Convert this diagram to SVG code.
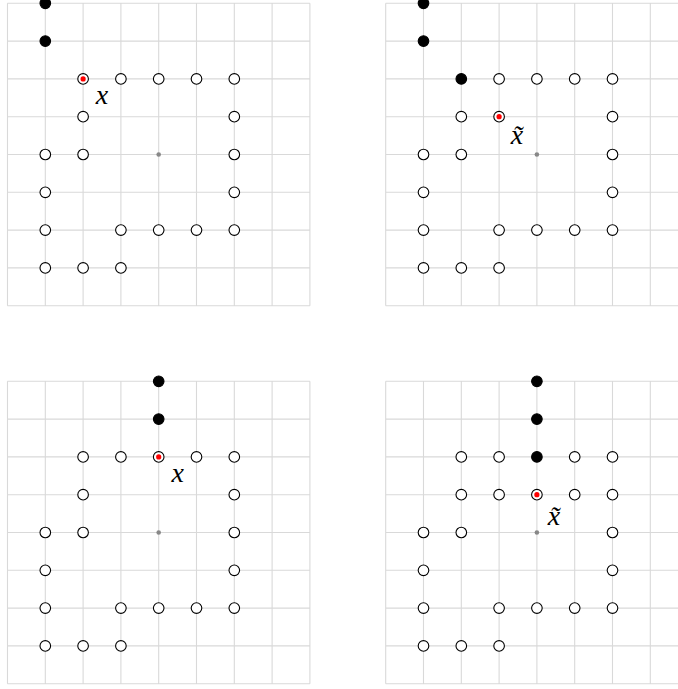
<svg xmlns="http://www.w3.org/2000/svg" xmlns:xlink="http://www.w3.org/1999/xlink" width="678" height="689" viewBox="0 0 678 689">
<style>
.grid{fill:none;stroke:#d9d9d9;stroke-width:1.1}
.o{fill:#fff;stroke:#000;stroke-width:1.1}
.b{fill:#000;stroke:#000;stroke-width:1.1}
.r{fill:#f00;stroke:none}
.g{fill:#888;stroke:none}
.lbl{font-family:"Liberation Serif","DejaVu Serif",serif;font-style:italic;font-size:28px;fill:#000;text-anchor:middle}
</style>
<defs>
<path id="gridL" class="grid" d="M0 0V302.4M37.8 0V302.4M75.6 0V302.4M113.4 0V302.4M151.2 0V302.4M189 0V302.4M226.8 0V302.4M264.6 0V302.4M302.4 0V302.4M0 0H302.4M0 37.8H302.4M0 75.6H302.4M0 113.4H302.4M0 151.2H302.4M0 189H302.4M0 226.8H302.4M0 264.6H302.4M0 302.4H302.4"/>
<g id="common">
<circle class="o" cx="226.8" cy="113.4" r="5.3"/>
<circle class="o" cx="37.8" cy="151.2" r="5.3"/>
<circle class="o" cx="75.6" cy="151.2" r="5.3"/>
<circle class="g" cx="151.2" cy="151.2" r="2.3"/>
<circle class="o" cx="226.8" cy="151.2" r="5.3"/>
<circle class="o" cx="37.8" cy="189" r="5.3"/>
<circle class="o" cx="226.8" cy="189" r="5.3"/>
<circle class="o" cx="37.8" cy="226.8" r="5.3"/>
<circle class="o" cx="113.4" cy="226.8" r="5.3"/>
<circle class="o" cx="151.2" cy="226.8" r="5.3"/>
<circle class="o" cx="189" cy="226.8" r="5.3"/>
<circle class="o" cx="226.8" cy="226.8" r="5.3"/>
<circle class="o" cx="37.8" cy="264.6" r="5.3"/>
<circle class="o" cx="75.6" cy="264.6" r="5.3"/>
<circle class="o" cx="113.4" cy="264.6" r="5.3"/>
</g>
</defs>
<g id="panel1" transform="translate(7.5,3.3)">
<use xlink:href="#gridL"/>
<use xlink:href="#common"/>
<circle class="b" cx="37.8" cy="0" r="5.3"/>
<circle class="b" cx="37.8" cy="37.8" r="5.3"/>
<circle class="o" cx="75.6" cy="75.6" r="5.3"/>
<circle class="r" cx="75.6" cy="75.6" r="2.6"/>
<circle class="o" cx="113.4" cy="75.6" r="5.3"/>
<circle class="o" cx="151.2" cy="75.6" r="5.3"/>
<circle class="o" cx="189" cy="75.6" r="5.3"/>
<circle class="o" cx="226.8" cy="75.6" r="5.3"/>
<circle class="o" cx="75.6" cy="113.4" r="5.3"/>
<text class="lbl" x="94.5" y="100.7">x</text>
</g>
<g id="panel2" transform="translate(385.7,3.3)">
<use xlink:href="#gridL"/>
<use xlink:href="#common"/>
<circle class="b" cx="37.8" cy="0" r="5.3"/>
<circle class="b" cx="37.8" cy="37.8" r="5.3"/>
<circle class="b" cx="75.6" cy="75.6" r="5.3"/>
<circle class="o" cx="113.4" cy="75.6" r="5.3"/>
<circle class="o" cx="151.2" cy="75.6" r="5.3"/>
<circle class="o" cx="189" cy="75.6" r="5.3"/>
<circle class="o" cx="226.8" cy="75.6" r="5.3"/>
<circle class="o" cx="75.6" cy="113.4" r="5.3"/>
<circle class="o" cx="113.4" cy="113.4" r="5.3"/>
<circle class="r" cx="113.4" cy="113.4" r="2.6"/>
<text class="lbl" x="131.3" y="141">x&#x303;</text>
</g>
<g id="panel3" transform="translate(7.5,381.3)">
<use xlink:href="#gridL"/>
<use xlink:href="#common"/>
<circle class="b" cx="151.2" cy="0" r="5.3"/>
<circle class="b" cx="151.2" cy="37.8" r="5.3"/>
<circle class="o" cx="75.6" cy="75.6" r="5.3"/>
<circle class="o" cx="113.4" cy="75.6" r="5.3"/>
<circle class="o" cx="151.2" cy="75.6" r="5.3"/>
<circle class="r" cx="151.2" cy="75.6" r="2.6"/>
<circle class="o" cx="189" cy="75.6" r="5.3"/>
<circle class="o" cx="226.8" cy="75.6" r="5.3"/>
<circle class="o" cx="75.6" cy="113.4" r="5.3"/>
<text class="lbl" x="170.1" y="100.7">x</text>
</g>
<g id="panel4" transform="translate(385.7,381.3)">
<use xlink:href="#gridL"/>
<use xlink:href="#common"/>
<circle class="b" cx="151.2" cy="0" r="5.3"/>
<circle class="b" cx="151.2" cy="37.8" r="5.3"/>
<circle class="o" cx="75.6" cy="75.6" r="5.3"/>
<circle class="o" cx="113.4" cy="75.6" r="5.3"/>
<circle class="b" cx="151.2" cy="75.6" r="5.3"/>
<circle class="o" cx="189" cy="75.6" r="5.3"/>
<circle class="o" cx="226.8" cy="75.6" r="5.3"/>
<circle class="o" cx="75.6" cy="113.4" r="5.3"/>
<circle class="o" cx="113.4" cy="113.4" r="5.3"/>
<circle class="o" cx="151.2" cy="113.4" r="5.3"/>
<circle class="r" cx="151.2" cy="113.4" r="2.6"/>
<circle class="o" cx="189" cy="113.4" r="5.3"/>
<text class="lbl" x="168.3" y="143.7">x&#x303;</text>
</g>
</svg>
